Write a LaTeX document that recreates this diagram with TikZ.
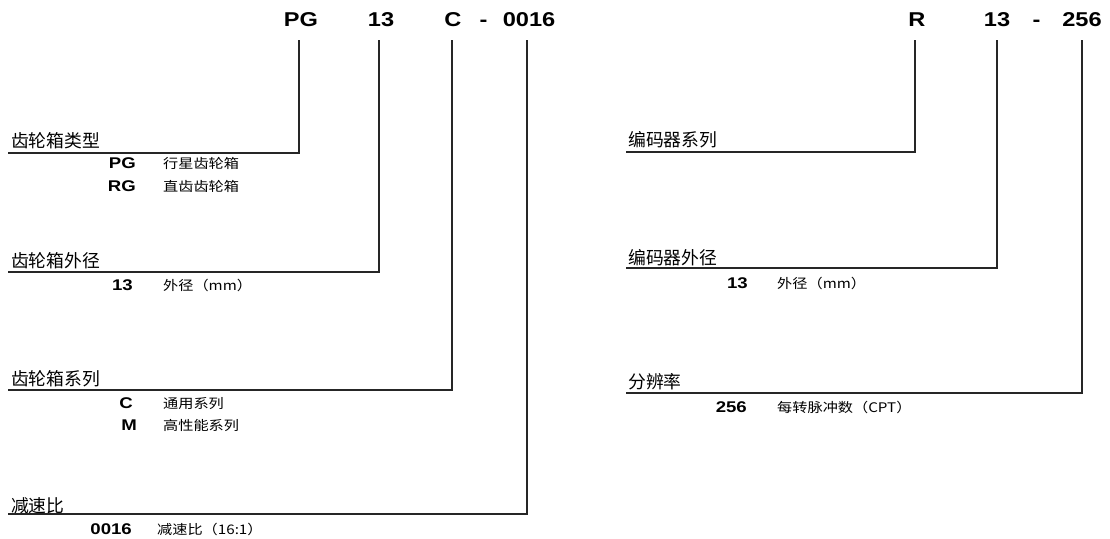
\documentclass[tikz,border=0pt]{standalone}
\usepackage{fontspec}
\setmainfont{Liberation Sans}
\newfontfamily\cjk{Noto Sans CJK SC}
\newfontfamily\hdrfont[FakeStretch=1.18]{Liberation Sans}
\newfontfamily\codefont[FakeStretch=1.2]{Liberation Sans}
\newfontfamily\desccjk[FakeStretch=1.15]{Noto Sans CJK SC}
\begin{document}
\begin{tikzpicture}[x=1pt,y=-1pt,
  hdr/.style={inner sep=0pt,anchor=base,font=\fontsize{20}{20}\hdrfont\bfseries},
  lbl/.style={inner sep=0pt,anchor=base west,font=\fontsize{17.8}{18}\cjk},
  code/.style={inner sep=0pt,anchor=base east,font=\fontsize{15.5}{15}\codefont\bfseries},
  desc/.style={inner sep=0pt,anchor=base west,font=\fontsize{13.2}{13}\desccjk},
  conn/.style={line width=1.2pt,draw=black!85}]
\useasboundingbox (0,0) rectangle (1110,538);
% header left
\node[hdr] (hpg) at (301,27) {PG};
\node[hdr] (h13) at (381,27) {13};
\node[hdr] (hc) at (453,27) {C};
\node[hdr] (hd1) at (483.5,27) {-};
\node[hdr] (h16) at (529,27) {0016};
% header right
\node[hdr] (hr) at (917,27) {R};
\node[hdr] (hr13) at (997,27) {13};
\node[hdr] (hd2) at (1036.5,27) {-};
\node[hdr] (h256) at (1082,27) {256};
% left labels
\node[lbl] (l1) at (11,147) {齿轮箱类型};
\node[code] (c1a) at (136,168) {PG};
\node[desc] (d1a) at (163,168) {行星齿轮箱};
\node[code] (c1b) at (136,191) {RG};
\node[desc] (d1b) at (163,191) {直齿齿轮箱};
\node[lbl] (l2) at (11,267) {齿轮箱外径};
\node[code] (c2) at (133,290) {13};
\node[desc] (d2) at (163,290) {外径（mm）};
\node[lbl] (l3) at (11,385) {齿轮箱系列};
\node[code] (c3a) at (133,408) {C};
\node[desc] (d3a) at (163,408) {通用系列};
\node[code] (c3b) at (137,430) {M};
\node[desc] (d3b) at (163,430) {高性能系列};
\node[lbl] (l4) at (11,512) {减速比};
\node[code] (c4) at (132,534) {0016};
\node[desc] (d4) at (157,534) {减速比（16:1）};
% right labels
\node[lbl] (r1) at (628,146) {编码器系列};
\node[lbl] (r2) at (628,264) {编码器外径};
\node[code] (rc2) at (748,288) {13};
\node[desc] (rd2) at (777,288) {外径（mm）};
\node[lbl] (r3) at (628,388) {分辨率};
\node[code] (rc3) at (747,412) {256};
\node[desc] (rd3) at (777,412) {每转脉冲数（CPT）};
% connector coordinates
\coordinate (t1) at (299,40);  \coordinate (e1) at (8,153);
\coordinate (t2) at (379,40);  \coordinate (e2) at (8,272);
\coordinate (t3) at (452,40);  \coordinate (e3) at (8,390);
\coordinate (t4) at (527,40);  \coordinate (e4) at (8,514);
\coordinate (t5) at (915,40);  \coordinate (e5) at (626,152);
\coordinate (t6) at (997,40);  \coordinate (e6) at (626,268);
\coordinate (t7) at (1082,40); \coordinate (e7) at (626,393);
\foreach \i in {1,...,7} \draw[conn] (t\i) |- (e\i);
\end{tikzpicture}
\end{document}
